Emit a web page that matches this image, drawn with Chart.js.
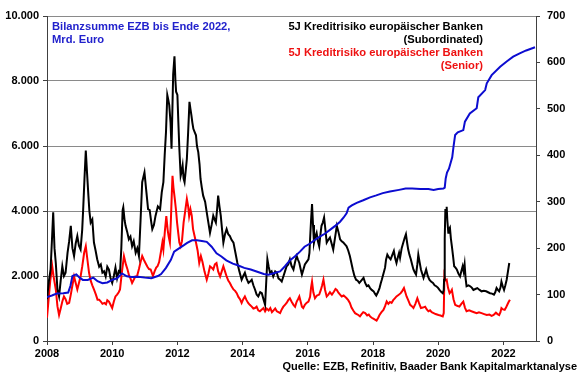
<!DOCTYPE html>
<html>
<head>
<meta charset="utf-8">
<script src="https://cdn.jsdelivr.net/npm/chart.js@4"></script>
<style>
  body { margin: 0; background: #fff; }
</style>
</head>
<body>
<canvas id="chart" width="580" height="375"></canvas>
<script>
// Bilanzsumme EZB (Mrd. Euro), linke Achse
const ezbYears = [2008.00, 2008.15, 2008.30, 2008.50, 2008.65, 2008.72, 2008.78, 2008.90, 2009.00, 2009.10, 2009.25, 2009.42, 2009.55, 2009.70, 2009.85, 2010.00, 2010.15, 2010.30, 2010.45, 2010.60, 2010.80, 2011.00, 2011.20, 2011.40, 2011.50, 2011.65, 2011.80, 2011.90, 2012.05, 2012.20, 2012.30, 2012.45, 2012.60, 2012.75, 2012.90, 2013.05, 2013.20, 2013.35, 2013.50, 2013.70, 2013.85, 2014.05, 2014.25, 2014.45, 2014.65, 2014.80, 2015.00, 2015.15, 2015.30, 2015.45, 2015.60, 2015.76, 2015.90, 2016.07, 2016.20, 2016.37, 2016.52, 2016.68, 2016.85, 2016.99, 2017.10, 2017.19, 2017.25, 2017.35, 2017.50, 2017.70, 2017.91, 2018.10, 2018.30, 2018.52, 2018.80, 2019.00, 2019.20, 2019.45, 2019.70, 2019.86, 2020.00, 2020.16, 2020.20, 2020.23, 2020.27, 2020.33, 2020.43, 2020.47, 2020.52, 2020.60, 2020.77, 2020.82, 2020.97, 2021.18, 2021.23, 2021.44, 2021.49, 2021.64, 2021.90, 2022.10, 2022.30, 2022.50, 2022.70, 2022.97];
const ezbBilanz = [1350, 1400, 1460, 1470, 1490, 1700, 2000, 2050, 1950, 1880, 1880, 1950, 1840, 1780, 1800, 1880, 1930, 2080, 1990, 1970, 1980, 1950, 1930, 2000, 2060, 2250, 2500, 2750, 2850, 2950, 3020, 3100, 3100, 3080, 3050, 2900, 2700, 2600, 2480, 2380, 2330, 2250, 2200, 2130, 2060, 2040, 2100, 2140, 2300, 2480, 2600, 2750, 2900, 3000, 3100, 3210, 3300, 3420, 3550, 3670, 3800, 3930, 4100, 4170, 4250, 4330, 4420, 4480, 4550, 4600, 4650, 4690, 4690, 4680, 4680, 4650, 4680, 4690, 4720, 5000, 5180, 5300, 5650, 5980, 6340, 6420, 6490, 6750, 7000, 7160, 7500, 7720, 7930, 8180, 8440, 8600, 8750, 8850, 8940, 9040];

// 5J Kreditrisiko (Subordinated), rechte Achse
const subYears = [2008.00, 2008.06, 2008.11, 2008.16, 2008.19, 2008.23, 2008.27, 2008.32, 2008.37, 2008.42, 2008.47, 2008.52, 2008.57, 2008.63, 2008.68, 2008.73, 2008.78, 2008.83, 2008.88, 2008.93, 2008.98, 2009.03, 2009.08, 2009.11, 2009.15, 2009.19, 2009.23, 2009.27, 2009.30, 2009.34, 2009.39, 2009.44, 2009.49, 2009.54, 2009.60, 2009.65, 2009.70, 2009.75, 2009.80, 2009.85, 2009.90, 2009.95, 2010.00, 2010.05, 2010.10, 2010.15, 2010.20, 2010.24, 2010.28, 2010.32, 2010.34, 2010.38, 2010.41, 2010.46, 2010.51, 2010.56, 2010.61, 2010.66, 2010.72, 2010.77, 2010.82, 2010.87, 2010.92, 2010.99, 2011.05, 2011.10, 2011.15, 2011.20, 2011.23, 2011.28, 2011.33, 2011.40, 2011.47, 2011.52, 2011.57, 2011.61, 2011.65, 2011.69, 2011.72, 2011.75, 2011.79, 2011.82, 2011.87, 2011.91, 2011.94, 2011.96, 2012.00, 2012.03, 2012.06, 2012.10, 2012.13, 2012.16, 2012.19, 2012.22, 2012.26, 2012.29, 2012.33, 2012.37, 2012.40, 2012.43, 2012.46, 2012.49, 2012.53, 2012.57, 2012.60, 2012.64, 2012.68, 2012.71, 2012.75, 2012.79, 2012.85, 2012.90, 2012.95, 2013.00, 2013.05, 2013.10, 2013.14, 2013.18, 2013.22, 2013.25, 2013.29, 2013.33, 2013.37, 2013.41, 2013.46, 2013.51, 2013.56, 2013.61, 2013.66, 2013.72, 2013.78, 2013.84, 2013.90, 2013.97, 2014.02, 2014.07, 2014.12, 2014.18, 2014.23, 2014.28, 2014.33, 2014.38, 2014.43, 2014.48, 2014.54, 2014.59, 2014.64, 2014.69, 2014.72, 2014.76, 2014.80, 2014.84, 2014.89, 2014.94, 2015.00, 2015.05, 2015.10, 2015.15, 2015.20, 2015.25, 2015.30, 2015.35, 2015.40, 2015.45, 2015.50, 2015.56, 2015.61, 2015.66, 2015.70, 2015.74, 2015.78, 2015.82, 2015.87, 2015.91, 2015.96, 2016.02, 2016.05, 2016.07, 2016.10, 2016.13, 2016.16, 2016.19, 2016.23, 2016.27, 2016.31, 2016.35, 2016.38, 2016.42, 2016.46, 2016.50, 2016.54, 2016.58, 2016.63, 2016.68, 2016.73, 2016.78, 2016.83, 2016.89, 2016.94, 2016.99, 2017.04, 2017.09, 2017.14, 2017.19, 2017.24, 2017.29, 2017.33, 2017.38, 2017.43, 2017.48, 2017.53, 2017.58, 2017.64, 2017.71, 2017.76, 2017.81, 2017.86, 2017.91, 2017.96, 2018.02, 2018.06, 2018.10, 2018.15, 2018.20, 2018.24, 2018.27, 2018.32, 2018.37, 2018.40, 2018.44, 2018.49, 2018.54, 2018.59, 2018.64, 2018.68, 2018.72, 2018.76, 2018.80, 2018.83, 2018.88, 2018.93, 2018.97, 2019.01, 2019.05, 2019.08, 2019.12, 2019.16, 2019.20, 2019.24, 2019.28, 2019.32, 2019.36, 2019.39, 2019.43, 2019.47, 2019.51, 2019.55, 2019.59, 2019.63, 2019.68, 2019.73, 2019.78, 2019.84, 2019.89, 2019.94, 2019.99, 2020.04, 2020.09, 2020.14, 2020.17, 2020.18, 2020.20, 2020.22, 2020.24, 2020.26, 2020.28, 2020.31, 2020.33, 2020.36, 2020.39, 2020.42, 2020.46, 2020.49, 2020.53, 2020.57, 2020.62, 2020.67, 2020.71, 2020.75, 2020.78, 2020.81, 2020.84, 2020.87, 2020.93, 2020.98, 2021.03, 2021.08, 2021.14, 2021.20, 2021.27, 2021.33, 2021.40, 2021.47, 2021.53, 2021.59, 2021.65, 2021.71, 2021.75, 2021.79, 2021.83, 2021.87, 2021.91, 2021.94, 2021.98, 2022.02, 2022.06, 2022.10, 2022.14, 2022.18];
const subSpread = [90, 130, 154, 230, 277, 200, 168, 111, 96, 130, 161, 140, 147, 190, 215, 248, 200, 183, 210, 226, 205, 197, 240, 284, 350, 410, 360, 313, 280, 255, 262, 212, 195, 176, 160, 165, 147, 150, 139, 160, 154, 135, 125, 140, 158, 135, 150, 147, 200, 282, 288, 260, 248, 235, 219, 225, 204, 215, 190, 200, 183, 260, 342, 363, 320, 284, 282, 255, 241, 250, 270, 290, 284, 320, 342, 400, 450, 530, 520, 508, 470, 414, 574, 613, 560, 537, 530, 470, 414, 356, 365, 378, 350, 342, 370, 392, 450, 515, 500, 486, 470, 457, 450, 443, 420, 407, 380, 349, 330, 313, 300, 277, 255, 233, 250, 270, 262, 255, 285, 313, 290, 270, 240, 212, 230, 241, 230, 226, 218, 212, 190, 168, 150, 132, 140, 147, 135, 125, 128, 132, 120, 111, 100, 96, 105, 103, 90, 78, 120, 176, 160, 147, 150, 139, 150, 147, 135, 132, 128, 139, 150, 161, 165, 176, 162, 154, 170, 183, 175, 168, 155, 143, 155, 165, 170, 176, 190, 219, 260, 295, 250, 212, 225, 233, 215, 204, 225, 248, 255, 266, 240, 212, 218, 223, 210, 197, 220, 248, 235, 219, 215, 212, 208, 204, 195, 183, 170, 154, 140, 132, 130, 125, 130, 136, 125, 118, 120, 114, 110, 107, 102, 98, 105, 114, 125, 132, 145, 158, 175, 186, 180, 176, 185, 194, 178, 168, 180, 190, 179, 200, 212, 222, 230, 210, 197, 185, 176, 165, 154, 148, 143, 165, 186, 170, 154, 145, 136, 145, 154, 140, 132, 128, 125, 120, 118, 115, 110, 106, 103, 110, 132, 220, 284, 275, 289, 260, 233, 240, 244, 220, 204, 180, 161, 158, 154, 145, 139, 150, 161, 150, 165, 135, 118, 120, 118, 115, 110, 112, 114, 110, 107, 108, 107, 105, 103, 102, 100, 105, 114, 110, 107, 115, 128, 118, 110, 120, 132, 150, 168];

// 5J Kreditrisiko (Senior), rechte Achse
const senYears = [2008.00, 2008.05, 2008.10, 2008.16, 2008.20, 2008.27, 2008.32, 2008.37, 2008.42, 2008.47, 2008.52, 2008.57, 2008.62, 2008.68, 2008.73, 2008.78, 2008.83, 2008.88, 2008.93, 2008.98, 2009.03, 2009.08, 2009.14, 2009.19, 2009.24, 2009.29, 2009.34, 2009.39, 2009.44, 2009.50, 2009.55, 2009.60, 2009.65, 2009.70, 2009.76, 2009.81, 2009.85, 2009.90, 2009.95, 2010.00, 2010.05, 2010.10, 2010.15, 2010.20, 2010.24, 2010.30, 2010.36, 2010.42, 2010.47, 2010.52, 2010.56, 2010.61, 2010.66, 2010.71, 2010.76, 2010.82, 2010.87, 2010.92, 2010.97, 2011.02, 2011.08, 2011.13, 2011.18, 2011.25, 2011.30, 2011.35, 2011.39, 2011.44, 2011.49, 2011.54, 2011.57, 2011.62, 2011.66, 2011.70, 2011.73, 2011.77, 2011.80, 2011.83, 2011.85, 2011.88, 2011.92, 2011.96, 2011.99, 2012.03, 2012.06, 2012.10, 2012.14, 2012.19, 2012.24, 2012.29, 2012.33, 2012.36, 2012.40, 2012.44, 2012.48, 2012.53, 2012.57, 2012.62, 2012.67, 2012.72, 2012.77, 2012.83, 2012.90, 2012.95, 2013.00, 2013.05, 2013.10, 2013.15, 2013.20, 2013.25, 2013.31, 2013.36, 2013.41, 2013.46, 2013.51, 2013.56, 2013.61, 2013.66, 2013.72, 2013.77, 2013.82, 2013.87, 2013.92, 2013.97, 2014.02, 2014.07, 2014.12, 2014.17, 2014.22, 2014.28, 2014.33, 2014.38, 2014.43, 2014.48, 2014.53, 2014.59, 2014.64, 2014.69, 2014.74, 2014.80, 2014.85, 2014.90, 2014.95, 2015.00, 2015.05, 2015.10, 2015.15, 2015.20, 2015.25, 2015.30, 2015.35, 2015.40, 2015.45, 2015.50, 2015.56, 2015.61, 2015.66, 2015.70, 2015.74, 2015.78, 2015.82, 2015.86, 2015.91, 2015.96, 2016.02, 2016.07, 2016.10, 2016.13, 2016.17, 2016.22, 2016.28, 2016.35, 2016.40, 2016.44, 2016.48, 2016.53, 2016.58, 2016.63, 2016.68, 2016.74, 2016.80, 2016.85, 2016.89, 2016.94, 2016.99, 2017.04, 2017.10, 2017.15, 2017.19, 2017.24, 2017.29, 2017.34, 2017.40, 2017.45, 2017.50, 2017.55, 2017.60, 2017.65, 2017.70, 2017.76, 2017.82, 2017.87, 2017.91, 2017.96, 2018.01, 2018.06, 2018.11, 2018.16, 2018.20, 2018.26, 2018.32, 2018.37, 2018.42, 2018.47, 2018.52, 2018.57, 2018.62, 2018.67, 2018.72, 2018.76, 2018.80, 2018.85, 2018.90, 2018.95, 2018.99, 2019.03, 2019.08, 2019.14, 2019.19, 2019.24, 2019.30, 2019.36, 2019.41, 2019.47, 2019.53, 2019.60, 2019.65, 2019.70, 2019.75, 2019.80, 2019.86, 2019.92, 2020.01, 2020.07, 2020.14, 2020.17, 2020.19, 2020.22, 2020.26, 2020.30, 2020.35, 2020.39, 2020.42, 2020.47, 2020.52, 2020.58, 2020.65, 2020.71, 2020.77, 2020.82, 2020.87, 2020.95, 2021.02, 2021.10, 2021.18, 2021.25, 2021.33, 2021.41, 2021.49, 2021.57, 2021.64, 2021.70, 2021.77, 2021.82, 2021.87, 2021.91, 2021.94, 2021.99, 2022.04, 2022.08, 2022.12, 2022.16, 2022.20];
const senSpread = [50, 90, 130, 161, 140, 111, 75, 56, 70, 85, 96, 90, 80, 82, 100, 120, 139, 125, 111, 125, 139, 160, 190, 204, 175, 147, 130, 120, 111, 100, 89, 89, 85, 80, 82, 79, 88, 85, 78, 71, 85, 96, 100, 105, 111, 150, 183, 165, 154, 140, 135, 125, 132, 139, 139, 155, 170, 183, 175, 168, 160, 155, 154, 140, 150, 158, 161, 170, 190, 212, 197, 240, 269, 240, 226, 212, 260, 320, 356, 330, 306, 280, 255, 230, 212, 204, 215, 255, 280, 306, 290, 269, 284, 270, 241, 225, 212, 195, 168, 183, 170, 150, 132, 145, 161, 158, 154, 165, 168, 150, 139, 150, 161, 150, 139, 130, 125, 118, 111, 108, 103, 95, 90, 82, 90, 96, 88, 82, 78, 74, 70, 71, 74, 66, 64, 68, 71, 64, 70, 66, 71, 62, 66, 70, 64, 62, 60, 68, 74, 78, 82, 88, 92, 85, 78, 74, 85, 90, 96, 85, 74, 71, 78, 82, 85, 95, 115, 128, 105, 92, 98, 100, 110, 120, 132, 110, 96, 100, 105, 100, 106, 112, 110, 104, 100, 96, 98, 95, 92, 88, 82, 72, 65, 60, 58, 56, 53, 58, 62, 60, 55, 57, 53, 50, 48, 46, 44, 50, 56, 62, 67, 75, 85, 80, 84, 82, 88, 92, 96, 98, 100, 103, 108, 114, 105, 96, 88, 78, 75, 71, 80, 92, 82, 71, 72, 74, 68, 64, 66, 62, 60, 58, 56, 55, 53, 60, 139, 130, 132, 115, 103, 106, 110, 90, 78, 76, 74, 80, 85, 72, 64, 66, 64, 62, 60, 62, 60, 58, 56, 57, 54, 56, 61, 58, 56, 62, 71, 68, 67, 72, 78, 84, 89];

const xTickYears = [2008, 2010, 2012, 2014, 2016, 2018, 2020, 2022];

function toPoints(xs, ys) {
  return xs.map((x, i) => ({ x: x, y: ys[i] }));
}

function deNumber(v) {
  return String(v).replace(/\B(?=(\d{3})+(?!\d))/g, ".");
}

const axisColor = "#404040";
const gridColor = "#8a8a8a";
const tickFont = { family: "Liberation Sans", size: 11, weight: "bold" };

// Beschriftungen im Diagramm
const notesPlugin = {
  id: "notes",
  afterDraw(chart) {
    const ctx = chart.ctx;
    ctx.save();
    ctx.font = "bold 11.2px 'Liberation Sans'";
    ctx.textBaseline = "middle";
    ctx.textAlign = "left";
    ctx.fillStyle = "#2222cc";
    ctx.fillText("Bilanzsumme EZB bis Ende 2022,", 52, 27);
    ctx.fillText("Mrd. Euro", 52, 40);
    ctx.textAlign = "right";
    ctx.fillStyle = "#000000";
    ctx.fillText("5J Kreditrisiko europäischer Banken", 483, 27);
    ctx.fillText("(Subordinated)", 483, 40);
    ctx.fillStyle = "#ee1111";
    ctx.fillText("5J Kreditrisiko europäischer Banken", 483, 53);
    ctx.fillText("(Senior)", 483, 66);
    ctx.fillStyle = "#000000";
    ctx.font = "bold 11px 'Liberation Sans'";
    ctx.fillText("Quelle: EZB, Refinitiv, Baader Bank Kapitalmarktanalyse", 577, 367);
    ctx.restore();
  },
};

const ctx = document.getElementById("chart").getContext("2d");
new Chart(ctx, {
  type: "line",
  data: {
    datasets: [
      {
        label: "Bilanzsumme EZB",
        data: toPoints(ezbYears, ezbBilanz),
        yAxisID: "y",
        borderColor: "#0c0cd0",
        borderWidth: 2,
        pointRadius: 0,
        fill: false,
      },
      {
        label: "Subordinated",
        data: toPoints(subYears, subSpread),
        yAxisID: "y1",
        borderColor: "#000000",
        borderWidth: 2,
        pointRadius: 0,
        fill: false,
      },
      {
        label: "Senior",
        data: toPoints(senYears, senSpread),
        yAxisID: "y1",
        borderColor: "#ff0000",
        borderWidth: 2,
        pointRadius: 0,
        fill: false,
      },
    ],
  },
  options: {
    responsive: false,
    animation: false,
    layout: { padding: { top: 16, left: 0, right: 0, bottom: 0 } },
    plugins: {
      legend: { display: false },
      tooltip: { enabled: false },
    },
    scales: {
      x: {
        type: "linear",
        min: 2008,
        max: 2023,
        afterBuildTicks: (scale) => {
          scale.ticks = xTickYears.map((v) => ({ value: v }));
        },
        afterFit: (scale) => {
          scale.height = 34;
        },
        ticks: {
          font: tickFont,
          color: "#000",
          padding: 2,
          maxRotation: 0,
          autoSkip: false,
          callback: (v) => String(v),
        },
        grid: { drawOnChartArea: false, tickLength: 4, tickColor: axisColor },
        border: { color: axisColor, width: 1 },
      },
      y: {
        position: "left",
        min: 0,
        max: 10000,
        afterFit: (scale) => {
          scale.width = 47;
        },
        ticks: {
          stepSize: 2000,
          font: tickFont,
          color: "#000",
          padding: 4,
          callback: (v) => deNumber(v),
        },
        grid: { color: gridColor, lineWidth: 1, tickLength: 4, tickColor: axisColor },
        border: { color: axisColor, width: 1 },
      },
      y1: {
        position: "right",
        min: 0,
        max: 700,
        afterFit: (scale) => {
          scale.width = 44;
        },
        ticks: {
          stepSize: 100,
          font: tickFont,
          color: "#000",
          padding: 7,
        },
        grid: { drawOnChartArea: false, tickLength: 4, tickColor: axisColor },
        border: { color: axisColor, width: 1 },
      },
    },
  },
  plugins: [notesPlugin],
});
</script>
</body>
</html>
